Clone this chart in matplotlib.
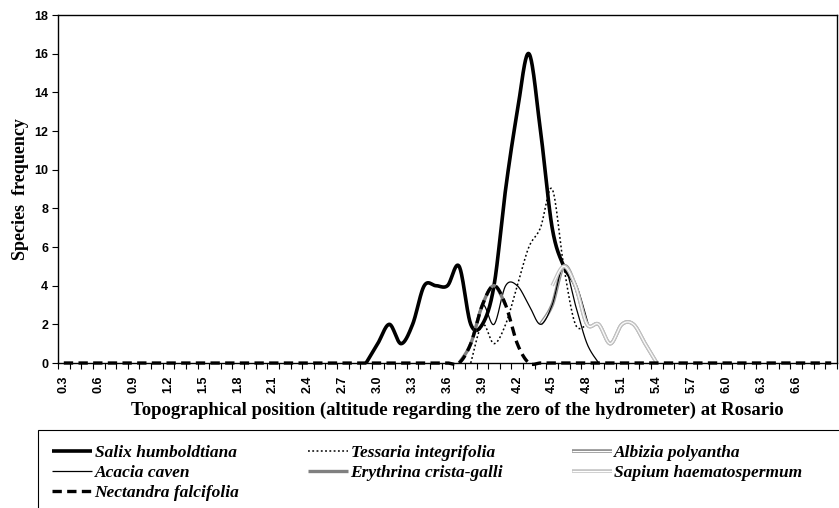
import numpy as np
import matplotlib
matplotlib.use("Agg")
import matplotlib.pyplot as plt
import matplotlib.patheffects as pe
from matplotlib.patches import Rectangle

# Categorias del eje x (altura topografica)
categories = ["0.3", "0.4", "0.5", "0.6", "0.7", "0.8", "0.9", "1.0", "1.1", "1.2",
              "1.3", "1.4", "1.5", "1.6", "1.7", "1.8", "1.9", "2.0", "2.1", "2.2",
              "2.3", "2.4", "2.5", "2.6", "2.7", "2.8", "2.9", "3.0", "3.1", "3.2",
              "3.3", "3.4", "3.5", "3.6", "3.7", "3.8", "3.9", "4.0", "4.1", "4.2",
              "4.3", "4.4", "4.5", "4.6", "4.7", "4.8", "4.9", "5.0", "5.1", "5.2",
              "5.3", "5.4", "5.5", "5.6", "5.7", "5.8", "5.9", "6.0", "6.1", "6.2",
              "6.3", "6.4", "6.5", "6.6", "6.7", "6.8", "6.9"]
tick_labels = ["0.3", "0.6", "0.9", "1.2", "1.5", "1.8", "2.1", "2.4", "2.7", "3.0",
               "3.3", "3.6", "3.9", "4.2", "4.5", "4.8", "5.1", "5.4", "5.7", "6.0",
               "6.3", "6.6"]

# Series (categoria inicial + valores consecutivos)
salix_start = "2.9"
salix = [0, 1, 2, 1, 2, 4, 4, 4, 5, 2, 2, 4, 9, 13, 16, 12, 7, 5, 4, 2]

tessaria_start = "3.8"
tessaria = [0, 2, 1, 2, 4, 6, 7, 9, 5, 2, 2]

albizia_start = "4.4"
albizia = [2, 3, 5, 4, 2, 2, 1, 2, 2, 1, 0]

acacia_start = "3.7"
acacia = [0, 1, 3, 2, 4, 4, 3, 2, 3, 5, 3, 1, 0]

erythrina_start = "3.7"
erythrina = [0, 1, 3, 4, 3]

sapium_start = "4.5"
sapium = [4, 5, 4, 2, 2, 1, 2, 2, 1, 0]

nectandra_start = "0.3"
nectandra = [0, 0, 0, 0, 0, 0, 0, 0, 0, 0, 0, 0, 0, 0, 0, 0, 0, 0, 0, 0,
             0, 0, 0, 0, 0, 0, 0, 0, 0, 0, 0, 0, 0, 0, 0, 1, 3, 4, 3, 1,
             0, 0, 0, 0, 0, 0, 0, 0, 0, 0, 0, 0, 0, 0, 0, 0, 0, 0, 0, 0,
             0, 0, 0, 0, 0, 0, 0]


# Curva suavizada tipo Excel (Bezier / Catmull-Rom)
def smooth(xs, ys, n=24):
    pts = np.column_stack([xs, ys]).astype(float)
    if len(pts) < 3:
        return pts[:, 0], pts[:, 1]
    pad = np.vstack([pts[0], pts, pts[-1]])
    t = np.linspace(0, 1, n, endpoint=False)[:, None]
    out = []
    for i in range(len(pts) - 1):
        p0, p1, p2, p3 = pad[i], pad[i + 1], pad[i + 2], pad[i + 3]
        c1 = p1 + (p2 - p0) / 6
        c2 = p2 - (p3 - p1) / 6
        seg = ((1 - t) ** 3) * p1 + 3 * ((1 - t) ** 2) * t * c1 \
            + 3 * (1 - t) * t ** 2 * c2 + t ** 3 * p2
        out.append(seg)
    out.append(pts[-1:])
    out = np.vstack(out)
    return out[:, 0], out[:, 1]


def draw(ax, start, values, label, **kw):
    i0 = categories.index(start)
    xs = np.arange(i0, i0 + len(values))
    sx, sy = smooth(xs, values)
    return ax.plot(sx, sy, label=label, solid_capstyle="butt", **kw)[0]


plt.rcParams['font.family'] = ['Liberation Sans', 'DejaVu Sans']

W, H = 839, 508
fig = plt.figure(figsize=(W / 100, H / 100), dpi=100)
ax = fig.add_axes([58 / W, 1 - 363 / H, (837 - 58) / W, (363 - 15) / H])

hollow = lambda c: [pe.Stroke(linewidth=2.6, foreground=c), pe.Normal()]

h_salix = draw(ax, salix_start, salix, "Salix humboldtiana", color="black", lw=2.6)
h_tess = draw(ax, tessaria_start, tessaria, "Tessaria integrifolia", color="black",
              lw=1.1, linestyle=(0, (1.2, 1.6)))
h_alb = draw(ax, albizia_start, albizia, "Albizia polyantha", color="white", lw=0.8,
             path_effects=hollow("#8f8f8f"))
h_aca = draw(ax, acacia_start, acacia, "Acacia caven", color="black", lw=0.9)
h_ery = draw(ax, erythrina_start, erythrina, "Erythrina crista-galli", color="#808080", lw=2.4)
h_sap = draw(ax, sapium_start, sapium, "Sapium haematospermum", color="white", lw=0.8,
             path_effects=hollow("#c4c4c4"))
h_nec = draw(ax, nectandra_start, nectandra, "Nectandra falcifolia", color="black",
             lw=2.4, linestyle=(0, (2.8, 1.6)), clip_on=False)

ax.set_xlim(-0.5, len(categories) - 0.5)
ax.set_ylim(0, 18)

ax.set_yticks(np.arange(0, 19, 2))
ax.set_xticks([categories.index(c) for c in tick_labels])
ax.set_xticklabels(tick_labels, rotation=90, fontsize=9, fontweight="bold")
ax.set_xticks(np.arange(-0.5, len(categories), 1), minor=True)
ax.tick_params(axis="x", which="major", length=0, pad=9)
ax.tick_params(axis="x", which="minor", length=4, width=0.8, direction="out")
ax.tick_params(axis="y", length=4, width=0.8, direction="out", labelsize=9, pad=3)
for lab in ax.get_yticklabels():
    lab.set_fontweight("bold")
for s in ax.spines.values():
    s.set_linewidth(1.0)

ax.set_ylabel("Species  frequency", family="Liberation Serif", fontweight="bold",
              fontsize=13)
ax.yaxis.set_label_coords(-0.037, 0.5)
ax.set_xlabel("Topographical position (altitude regarding the zero of the hydrometer) at Rosario",
              family="Liberation Serif", fontweight="bold", fontsize=13.5)
ax.xaxis.set_label_coords(0.512, -0.112)

# Recuadro de la leyenda (se extiende hasta el borde derecho)
fig.patches.append(Rectangle((38 / W, -0.05), 1.0, 1 - 430 / H + 0.05,
                             transform=fig.transFigure, fill=False,
                             edgecolor="black", linewidth=0.8))

handles = [h_salix, h_aca, h_nec, h_tess, h_ery, h_alb, h_sap]
leg = fig.legend(handles=handles, labels=[h.get_label() for h in handles],
                 loc="upper left", bbox_to_anchor=(52 / W, 1 - 445 / H),
                 ncol=3, frameon=False,
                 prop={"family": "Liberation Serif", "style": "italic",
                       "weight": "bold", "size": 12.5},
                 handlelength=2.3, handletextpad=0.15, columnspacing=3.95,
                 labelspacing=0.22, borderpad=0.0, borderaxespad=0)

fig.savefig("out.png", dpi=100)
